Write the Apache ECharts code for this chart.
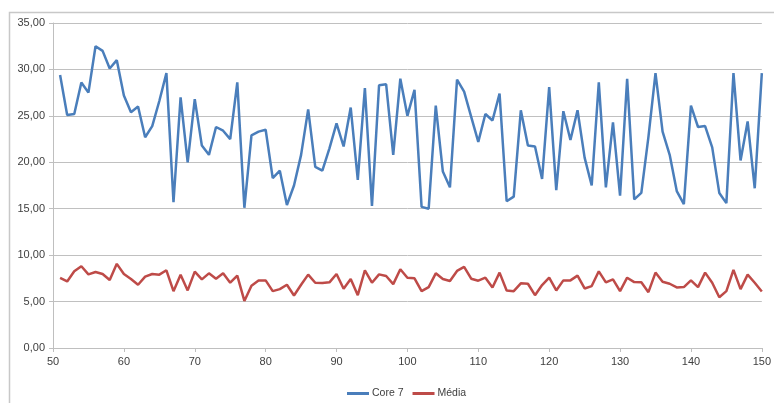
<!DOCTYPE html>
<html>
<head>
<meta charset="utf-8">
<style>
  html, body { margin: 0; padding: 0; background: #fff; overflow: hidden; }
  #chart { width: 774px; height: 403px; }
</style>
<script src="https://cdn.jsdelivr.net/npm/echarts@6/dist/echarts.min.js"></script>
</head>
<body>
<div id="chart"></div>
<script>
// Sample index (x) from 51 to 150
const samples = [];
for (let i = 51; i <= 150; i++) samples.push(i);

const core7 = [
  29.4, 25.1, 25.2, 28.6, 27.5, 32.5, 32.0, 30.1, 31.0, 27.2,
  25.4, 26.0, 22.7, 23.9, 26.6, 29.6, 15.7, 27.0, 20.0, 26.8,
  21.8, 20.8, 23.8, 23.4, 22.5, 28.6, 15.1, 22.9, 23.3, 23.5,
  18.3, 19.1, 15.4, 17.5, 20.8, 25.7, 19.5, 19.1, 21.5, 24.2,
  21.7, 25.9, 18.1, 28.0, 15.3, 28.3, 28.4, 20.8, 29.0, 25.0,
  27.8, 15.2, 15.0, 26.1, 19.0, 17.3, 28.9, 27.6, 24.9, 22.2,
  25.2, 24.5, 27.4, 15.8, 16.3, 25.6, 21.8, 21.7, 18.2, 28.1,
  17.0, 25.5, 22.4, 25.6, 20.5, 17.5, 28.6, 17.3, 24.3, 16.4,
  29.0, 16.0, 16.7, 22.7, 29.6, 23.3, 20.8, 16.9, 15.5, 26.1,
  23.8, 23.9, 21.6, 16.7, 15.6, 29.6, 20.2, 24.4, 17.2, 29.6
];

const media = [
  7.54, 7.17, 8.26, 8.80, 7.93, 8.19, 7.97, 7.32, 9.06, 7.97,
  7.43, 6.81, 7.68, 7.97, 7.90, 8.37, 6.12, 7.90, 6.20, 8.22,
  7.39, 8.04, 7.46, 8.04, 7.03, 7.79, 5.07, 6.70, 7.28, 7.28,
  6.12, 6.34, 6.81, 5.65, 6.81, 7.90, 7.03, 6.99, 7.07, 7.97,
  6.38, 7.43, 5.69, 8.37, 7.03, 7.93, 7.75, 6.88, 8.48, 7.57,
  7.50, 6.12, 6.56, 8.04, 7.43, 7.21, 8.30, 8.73, 7.46, 7.25,
  7.57, 6.52, 8.12, 6.20, 6.12, 6.96, 6.92, 5.69, 6.78, 7.57,
  6.20, 7.28, 7.28, 7.79, 6.41, 6.67, 8.26, 7.07, 7.39, 6.12,
  7.57, 7.10, 7.07, 6.01, 8.12, 7.14, 6.92, 6.52, 6.56, 7.28,
  6.56, 8.12, 7.03, 5.47, 6.12, 8.41, 6.34, 7.90, 7.03, 6.09
];

const seriesNames = ['Core 7', 'Média'];
const seriesColors = ['#4a7ebb', '#be4b48'];

const pairs = (ys) => samples.map((x, i) => [x, ys[i]]);
const fmt = (v) => v.toFixed(2).replace('.', ',');

const chart = echarts.init(document.getElementById('chart'), null, { renderer: 'canvas' });

const fontFamily = 'Liberation Sans, Arial, sans-serif';
const axisText = { color: '#404040', fontSize: 11, fontFamily };

chart.setOption({
  animation: false,
  backgroundColor: '#ffffff',
  graphic: [{
    type: 'rect',
    left: 7, top: 10,
    shape: { width: 900, height: 600 },
    style: { fill: 'none', stroke: '#c8c8c8', lineWidth: 1.5 },
    silent: true, z: -1
  }],
  grid: { left: 53, right: 5, top: 23, bottom: 55, containLabel: false },
  legend: {
    data: seriesNames,
    top: 383,
    left: 342,
    itemWidth: 22,
    itemHeight: 3,
    itemGap: 9,
    icon: 'rect',
    textStyle: { color: '#404040', fontSize: 10.5, fontFamily, padding: [0, 0, 0, -2] }
  },
  xAxis: {
    type: 'value',
    min: 50, max: 150, interval: 10,
    axisLine: { show: true, lineStyle: { color: '#bfbfbf', width: 1 } },
    axisTick: { show: true, length: 4, lineStyle: { color: '#bfbfbf' } },
    axisLabel: Object.assign({ margin: 8 }, axisText),
    splitLine: { show: false }
  },
  yAxis: {
    type: 'value',
    min: 0, max: 35, interval: 5,
    axisLine: { show: true, lineStyle: { color: '#bfbfbf', width: 1 } },
    axisTick: { show: true, length: 4, lineStyle: { color: '#bfbfbf' } },
    axisLabel: Object.assign({ margin: 8, formatter: fmt }, axisText),
    splitLine: { show: true, lineStyle: { color: '#c0c0c0', width: 1 } }
  },
  series: [
    {
      name: seriesNames[0], type: 'line', data: pairs(core7),
      showSymbol: false, symbol: 'none',
      lineStyle: { color: seriesColors[0], width: 2.5 },
      itemStyle: { color: seriesColors[0] }
    },
    {
      name: seriesNames[1], type: 'line', data: pairs(media),
      showSymbol: false, symbol: 'none',
      lineStyle: { color: seriesColors[1], width: 2.5 },
      itemStyle: { color: seriesColors[1] }
    }
  ]
});
</script>
</body>
</html>
